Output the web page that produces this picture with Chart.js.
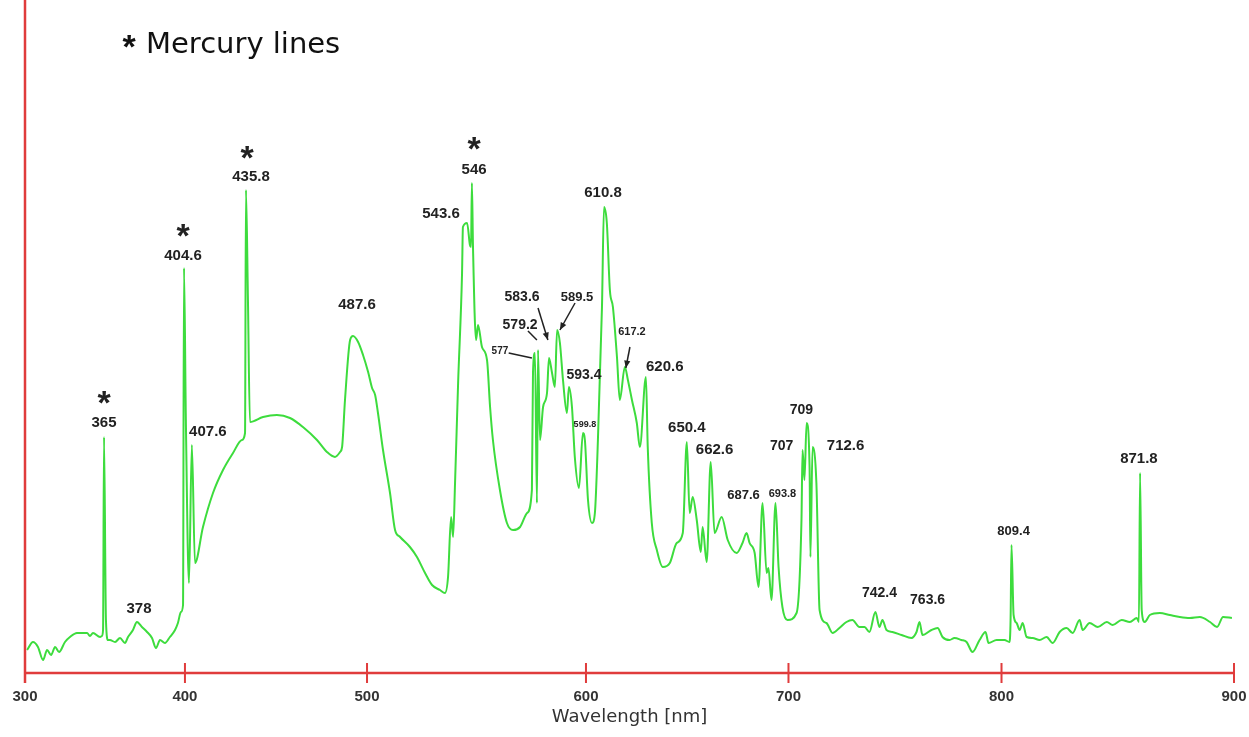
<!DOCTYPE html>
<html>
<head>
<meta charset="utf-8">
<script src="https://cdn.jsdelivr.net/npm/chart.js@4.4.0/dist/chart.umd.min.js"></script>
<style>
html, body { margin: 0; padding: 0; background: #fff; }
#wrap { width: 1249px; height: 737px; position: relative; }
</style>
</head>
<body>
<div id="wrap"><canvas id="myChart"></canvas></div>
<script>
// spectrum (x in axis nm, y in arbitrary units)
var wavelength = [
  301.3, 305.0, 308.1, 311.3, 313.8, 316.3, 318.8, 321.3, 325.0, 328.1, 332.5, 335.6, 338.8, 340.6, 342.5,
  346.9, 348.1, 348.8, 349.4, 350.6, 351.9, 353.1, 356.3, 359.4, 362.5, 364.4, 367.5, 370.0, 373.1, 376.3,
  379.4, 381.9, 384.4, 387.5, 390.6, 393.8, 395.6, 397.5, 398.8, 399.4, 400.5, 402.2, 403.8, 405.5, 409.9,
  415.4, 420.9, 426.4, 431.3, 433.0, 433.5, 434.6, 435.7, 442.9, 450.5, 457.7, 464.8, 472.5, 478.0, 482.4,
  485.2, 486.3, 487.9, 490.7, 492.3, 495.1, 497.8, 500.5, 502.3, 503.7, 505.0, 507.3, 510.5, 512.8, 515.1,
  519.6, 522.8, 526.5, 529.7, 533.3, 535.6, 537.0, 538.4, 539.3, 540.2, 541.6, 543.4, 543.8, 545.7, 547.0,
  547.5, 547.9, 548.4, 549.8, 550.7, 552.5, 554.8, 556.2, 557.5, 560.7, 563.9, 566.7, 569.9, 573.1, 575.3,
  575.8, 576.7, 577.6, 578.1, 579.0, 580.4, 582.2, 583.1, 584.5, 585.8, 586.8, 588.1, 589.5, 591.3, 592.2,
  593.6, 594.9, 596.8, 598.6, 599.5, 601.0, 603.0, 604.4, 605.9, 607.9, 608.9, 610.3, 611.8, 613.3, 615.3,
  616.7, 619.2, 620.7, 622.7, 625.1, 626.6, 629.6, 630.5, 632.5, 635.0, 637.9, 641.4, 644.8, 647.8, 649.8,
  651.2, 652.7, 654.7, 656.7, 657.6, 659.6, 661.6, 663.5, 667.0, 670.0, 674.4, 677.3, 679.3, 680.8, 683.3,
  685.2, 687.2, 689.2, 690.1, 691.6, 693.6, 695.1, 697.0, 699.5, 703.8, 706.1, 706.6, 707.5, 708.5, 709.9,
  710.3, 711.3, 713.1, 714.6, 717.8, 720.7, 723.9, 727.2, 730.0, 733.3, 735.7, 738.0, 740.8, 742.7, 744.1,
  746.0, 748.8, 753.1, 757.7, 760.1, 761.5, 762.9, 767.1, 770.0, 772.3, 775.6, 777.9, 781.2, 783.6, 786.4,
  789.7, 792.5, 793.9, 797.7, 801.3, 803.4, 803.9, 804.3, 805.2, 806.5, 807.8, 809.1, 810.8, 813.4, 816.4,
  819.4, 822.0, 825.0, 828.0, 830.6, 833.6, 834.9, 837.9, 841.4, 845.3, 847.8, 851.7, 855.2, 858.2, 859.1,
  859.6, 860.3, 861.6, 863.8, 868.1, 872.4, 876.7, 881.0, 885.3, 889.7, 892.7, 895.3, 899.1
];
var intensity = [
  23, 31, 26, 13, 23, 18, 26, 21, 31, 36, 40, 40, 40, 37, 40,
  36, 37, 43, 236, 53, 33, 33, 31, 35, 30, 36, 43, 51, 46, 41,
  35, 25, 33, 30, 36, 43, 50, 61, 68, 405, 253, 90, 228, 110, 146,
  180, 203, 220, 233, 240, 483, 373, 251, 256, 258, 255, 246, 233, 221, 216,
  221, 226, 273, 333, 337, 331, 318, 301, 285, 278, 260, 223, 180, 143, 136,
  126, 116, 100, 88, 83, 80, 96, 156, 136, 190, 290, 400, 446, 450, 428,
  426, 490, 426, 333, 348, 326, 313, 266, 233, 183, 150, 143, 146, 160, 183,
  300, 320, 170, 323, 233, 266, 280, 315, 300, 286, 343, 330, 293, 260, 286,
  266, 216, 185, 240, 233, 173, 150, 160, 233, 366, 466, 450, 383, 366, 316,
  273, 306, 293, 273, 250, 226, 296, 226, 150, 123, 106, 110, 130, 140, 231,
  160, 176, 153, 121, 146, 111, 211, 140, 156, 133, 120, 130, 140, 130, 120,
  86, 170, 100, 105, 73, 170, 106, 66, 53, 60, 153, 223, 193, 250, 206,
  116, 226, 190, 63, 50, 40, 45, 51, 53, 46, 46, 41, 61, 46, 53,
  43, 41, 38, 35, 41, 51, 38, 43, 45, 36, 33, 35, 33, 31, 21,
  33, 41, 30, 33, 33, 31, 53, 128, 58, 50, 43, 50, 36, 35, 33,
  36, 30, 41, 45, 40, 53, 43, 50, 46, 51, 48, 53, 51, 55, 51,
  200, 63, 51, 58, 60, 58, 56, 55, 56, 51, 46, 56, 55
];
var tickValues = [300, 400, 500, 600, 700, 800, 900];
var axisTitle = 'Wavelength [nm]';
var legendText = 'Mercury lines';

// the printed axis is not evenly spaced: where each tick sits along the axis (0..1)
var tickFractions = [0, 0.1323, 0.2829, 0.4640, 0.6315, 0.8077, 1];

// peak labels: text, anchor (nm, level) and font size
var peakNotes = [
  { text: '*', nm: 349.4, level: 268, size: 34 },
  { text: '365', nm: 349.4, level: 250, size: 15 },
  { text: '378', nm: 371.3, level: 64, size: 15 },
  { text: '*', nm: 398.8, level: 435, size: 34 },
  { text: '404.6', nm: 398.8, level: 417, size: 15 },
  { text: '407.6', nm: 412.6, level: 241, size: 15 },
  { text: '*', nm: 434.1, level: 513, size: 34 },
  { text: '435.8', nm: 436.3, level: 496, size: 15 },
  { text: '487.6', nm: 494.5, level: 368, size: 15 },
  { text: '543.6', nm: 533.8, level: 459, size: 15 },
  { text: '*', nm: 548.9, level: 522, size: 34 },
  { text: '546', nm: 548.9, level: 503, size: 15 },
  { text: '610.8', nm: 608.4, level: 480, size: 15 },
  { text: '583.6', nm: 570.8, level: 376, size: 14 },
  { text: '589.5', nm: 595.9, level: 376, size: 13 },
  { text: '579.2', nm: 569.9, level: 348, size: 14 },
  { text: '577', nm: 560.7, level: 322, size: 10 },
  { text: '593.4', nm: 599.1, level: 298, size: 14 },
  { text: '599.8', nm: 599.5, level: 248, size: 9 },
  { text: '617.2', nm: 622.7, level: 341, size: 11 },
  { text: '620.6', nm: 638.9, level: 306, size: 15 },
  { text: '650.4', nm: 649.8, level: 245, size: 15 },
  { text: '662.6', nm: 663.5, level: 223, size: 15 },
  { text: '707', nm: 696.6, level: 227, size: 14 },
  { text: '709', nm: 706.1, level: 263, size: 14 },
  { text: '712.6', nm: 726.8, level: 227, size: 15 },
  { text: '687.6', nm: 677.8, level: 178, size: 13 },
  { text: '693.8', nm: 697.0, level: 179, size: 11 },
  { text: '742.4', nm: 742.7, level: 80, size: 14 },
  { text: '763.6', nm: 765.3, level: 73, size: 14 },
  { text: '809.4', nm: 805.2, level: 142, size: 13 },
  { text: '871.8', nm: 859.1, level: 214, size: 15 }
];
// pointer lines from a label to its peak: [from nm, from level, to nm, to level, arrow head]
var pointers = [
  [564.7, 320, 575.3, 315, false],
  [573.5, 342, 577.6, 333, false],
  [578.1, 365, 582.6, 333, true],
  [595.0, 370, 588.1, 343, true],
  [621.7, 326, 619.7, 305, true]
];

class SegmentScale extends Chart.LinearScale {
  getPixelForValue(v) {
    if (v === null || v === undefined) return NaN;
    var b = tickValues, f = tickFractions, i = 1;
    while (i < b.length - 1 && v > b[i]) i++;
    var d = f[i - 1] + (v - b[i - 1]) / (b[i] - b[i - 1]) * (f[i] - f[i - 1]);
    return this.getPixelForDecimal(d);
  }
  getValueForPixel(p) {
    var d = this.getDecimalForPixel(p), b = tickValues, f = tickFractions, i = 1;
    while (i < f.length - 1 && d > f[i]) i++;
    return b[i - 1] + (d - f[i - 1]) / (f[i] - f[i - 1]) * (b[i] - b[i - 1]);
  }
}
SegmentScale.id = 'segment';
SegmentScale.defaults = Chart.LinearScale.defaults;
Chart.register(SegmentScale);

var red = '#e03c3c';

var decor = {
  id: 'decor',
  afterDraw: function(chart) {
    var ctx = chart.ctx, a = chart.chartArea, xs = chart.scales.x, ys = chart.scales.y;
    ctx.save();
    // axes
    ctx.strokeStyle = red;
    ctx.lineWidth = 2.5;
    ctx.beginPath();
    ctx.moveTo(a.left, a.top);
    ctx.lineTo(a.left, a.bottom + 10);
    ctx.moveTo(a.left, a.bottom);
    ctx.lineTo(a.right, a.bottom);
    ctx.stroke();
    ctx.lineWidth = 2;
    ctx.beginPath();
    xs.ticks.forEach(function(t) {
      var px = xs.getPixelForValue(t.value);
      ctx.moveTo(px, a.bottom - 10);
      ctx.lineTo(px, a.bottom + 10);
    });
    ctx.stroke();

    // peak labels
    ctx.fillStyle = '#222';
    ctx.textAlign = 'center';
    ctx.textBaseline = 'middle';
    peakNotes.forEach(function(n) {
      ctx.font = 'bold ' + n.size + 'px "Liberation Sans", Arial, sans-serif';
      ctx.fillText(n.text, xs.getPixelForValue(n.nm), ys.getPixelForValue(n.level));
    });

    // pointers
    ctx.strokeStyle = '#222';
    ctx.lineWidth = 1.5;
    pointers.forEach(function(p) {
      var x0 = xs.getPixelForValue(p[0]), y0 = ys.getPixelForValue(p[1]);
      var x1 = xs.getPixelForValue(p[2]), y1 = ys.getPixelForValue(p[3]);
      ctx.beginPath();
      ctx.moveTo(x0, y0);
      ctx.lineTo(x1, y1);
      ctx.stroke();
      if (p[4]) {
        var ang = Math.atan2(y1 - y0, x1 - x0);
        ctx.beginPath();
        ctx.moveTo(x1, y1);
        ctx.lineTo(x1 - 8 * Math.cos(ang - 0.4), y1 - 8 * Math.sin(ang - 0.4));
        ctx.lineTo(x1 - 8 * Math.cos(ang + 0.4), y1 - 8 * Math.sin(ang + 0.4));
        ctx.closePath();
        ctx.fill();
      }
    });

    // "* Mercury lines" note at top left
    ctx.textAlign = 'center';
    ctx.font = 'bold 34px "Liberation Sans", Arial, sans-serif';
    ctx.fillStyle = '#111';
    ctx.fillText('*', 129, 49);
    ctx.textAlign = 'left';
    ctx.textBaseline = 'alphabetic';
    ctx.font = '29px "DejaVu Sans", sans-serif';
    ctx.fillText(legendText, 146, 53);
    ctx.restore();
  }
};

var points = wavelength.map(function(w, i) { return { x: w, y: intensity[i] }; });

var ctx = document.getElementById('myChart');
var myChart = new Chart(ctx, {
  type: 'line',
  data: {
    datasets: [{
      data: points,
      borderColor: '#3ddc3d',
      borderWidth: 2,
      pointRadius: 0,
      cubicInterpolationMode: 'monotone',
      fill: false
    }]
  },
  options: {
    responsive: true,
    maintainAspectRatio: false,
    animation: false,
    layout: { padding: { left: 25, right: 15, top: 0, bottom: 0 } },
    plugins: { legend: { display: false }, tooltip: { enabled: false } },
    scales: {
      x: {
        type: 'segment',
        min: 300,
        max: 900,
        afterFit: function(s) { s.height = 64; s.paddingLeft = 0; s.paddingRight = 0; },
        afterBuildTicks: function(s) { s.ticks = tickValues.map(function(v) { return { value: v }; }); },
        grid: { display: false, drawTicks: false },
        border: { display: false },
        ticks: {
          padding: 15,
          maxRotation: 0,
          autoSkip: false,
          color: '#333',
          font: { family: '"Liberation Sans", Arial, sans-serif', size: 15, weight: 'bold' }
        },
        title: {
          display: true,
          text: axisTitle,
          color: '#333',
          padding: { top: 0, bottom: 9 },
          font: { family: '"DejaVu Sans", sans-serif', size: 18 }
        }
      },
      y: {
        display: false,
        min: 0,
        max: 673
      }
    }
  },
  plugins: [decor]
});
</script>
</body>
</html>
